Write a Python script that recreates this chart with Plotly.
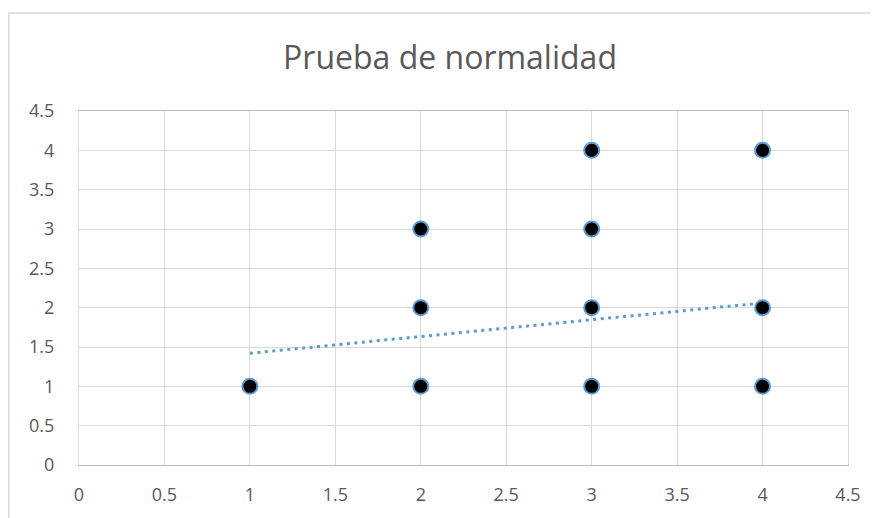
import plotly.graph_objects as go

# Data
x_vals = [1, 2, 2, 2, 3, 3, 3, 3, 4, 4, 4]
y_vals = [1, 1, 2, 3, 1, 2, 3, 4, 1, 2, 4]
trend_x = [1, 4]
trend_y = [1.42, 2.06]
tick_vals = [0, 0.5, 1, 1.5, 2, 2.5, 3, 3.5, 4, 4.5]
tick_text = ["0", "0.5", "1", "1.5", "2", "2.5", "3", "3.5", "4", "4.5"]

# page has an 8px body offset, so the figure is drawn 8px smaller
OFF = 8
W, H = 878 - OFF, 518 - OFF
ml, mr, mt, mb = 79 - OFF, 30, 111 - OFF, 53
pw, ph = W - ml - mr, H - mt - mb

fig = go.Figure()
fig.add_trace(go.Scatter(
    x=trend_x, y=trend_y, mode="lines",
    line=dict(color="#5b9bd5", width=3, dash="3px,4.5px"),
    hoverinfo="skip", showlegend=False))
fig.add_trace(go.Scatter(
    x=x_vals, y=y_vals, mode="markers",
    marker=dict(color="black", size=15, line=dict(color="#5b9bd5", width=2)),
    showlegend=False))

font_family = "Open Sans, Noto Sans, sans-serif"
axis_common = dict(
    range=[0, 4.5], tickvals=tick_vals, ticktext=tick_text,
    showgrid=True, gridcolor="#d9d9d9", gridwidth=1.4,
    zeroline=False, showline=True, linecolor="#d9d9d9", linewidth=1.4, mirror=True,
    ticks="", tickfont=dict(family=font_family, size=18, color="#595959"),
    fixedrange=True,
)
fig.update_xaxes(**axis_common, ticklabelstandoff=13)
fig.update_yaxes(**axis_common, ticklabelstandoff=20)
fig.update_xaxes(linecolor="#bfbfbf")

# outer chart border (page pixel coords converted to paper coords)
def px_to_paper_x(px):
    return (px - OFF - ml) / pw

def px_to_paper_y(py):
    return (H - mb - (py - OFF)) / ph

fig.add_shape(type="rect", xref="paper", yref="paper",
              x0=px_to_paper_x(8.8), x1=px_to_paper_x(877),
              y0=px_to_paper_y(540), y1=px_to_paper_y(13),
              line=dict(color="#d9d9d9", width=1.5), fillcolor="rgba(0,0,0,0)", layer="below")

fig.update_layout(
    width=W, height=H,
    margin=dict(l=ml, r=mr, t=mt, b=mb),
    paper_bgcolor="white", plot_bgcolor="white",
    title=dict(text="Prueba de normalidad", x=(450 - OFF) / W, xanchor="center",
               y=1 - (58 - OFF) / H, yanchor="middle",
               font=dict(family=font_family, size=32, color="#595959")),
)

fig.write_html("out.html")
